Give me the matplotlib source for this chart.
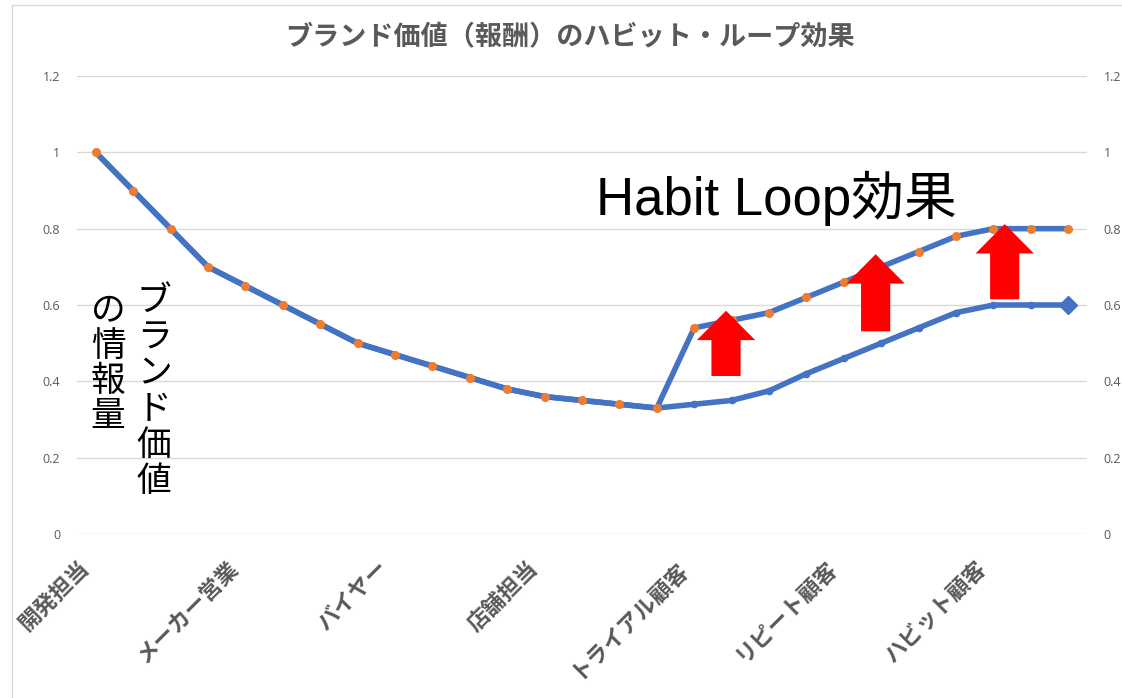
import matplotlib
matplotlib.use('Agg')
import matplotlib.pyplot as plt
from matplotlib.patches import Polygon
from matplotlib.lines import Line2D
import matplotlib.transforms as mtransforms

plt.rcParams['font.family'] = ['Noto Sans CJK JP', 'DejaVu Sans']

# ---------------- data ----------------
title = "ブランド価値（報酬）のハビット・ループ効果"
categories = ["開発担当", "メーカー営業", "バイヤー", "店舗担当",
              "トライアル顧客", "リピート顧客", "ハビット顧客"]
category_index = [0, 4, 8, 12, 16, 20, 24]
base_values = [1.0, 0.9, 0.8, 0.7, 0.65, 0.6, 0.55, 0.5, 0.47, 0.44, 0.41,
               0.38, 0.36, 0.35, 0.34, 0.33, 0.34, 0.35, 0.375, 0.42, 0.46,
               0.50, 0.54, 0.58, 0.60, 0.60, 0.60]
habit_values = [1.0, 0.9, 0.8, 0.7, 0.65, 0.6, 0.55, 0.5, 0.47, 0.44, 0.41,
                0.38, 0.36, 0.35, 0.34, 0.33, 0.54, 0.56, 0.58, 0.62, 0.66,
                0.70, 0.74, 0.78, 0.80, 0.80, 0.80]
y_ticks = [0, 0.2, 0.4, 0.6, 0.8, 1.0, 1.2]
y_tick_labels = ["0", "0.2", "0.4", "0.6", "0.8", "1", "1.2"]
annotation_text = "Habit Loop効果"
vertical_text_1 = "ブランド価値"
vertical_text_2 = "の情報量"
# red "up" arrows (annotation shapes): x position, tip and bottom value
arrow_x = [16.85, 20.85, 24.3]
arrow_tip = [0.585, 0.733, 0.812]
arrow_bottom = [0.414, 0.531, 0.615]

BLUE = '#4472C4'
ORANGE = '#ED7D31'
GRAY = '#595959'
GRID = '#d9d9d9'

W, H = 1122, 698
fig = plt.figure(figsize=(W / 100, H / 100), dpi=100)
fig.patch.set_facecolor('white')

# chart-area border (only left and top visible)
fig.add_artist(Line2D([11.5 / W, 11.5 / W], [0, 1 - 4.5 / H],
                      transform=fig.transFigure, color=GRID, linewidth=1.0))
fig.add_artist(Line2D([11.5 / W, 1.05], [1 - 4.5 / H, 1 - 4.5 / H],
                      transform=fig.transFigure, color=GRID, linewidth=1.0))

ax = fig.add_axes([77 / W, 164 / H, 1010 / W, 458 / H])
x = list(range(len(base_values)))

ax.plot(x, base_values, color=BLUE, linewidth=4.0, marker='o',
        markersize=4.5, markerfacecolor=BLUE, markeredgecolor=BLUE, zorder=3,
        solid_capstyle='round', solid_joinstyle='round')
ax.plot(x[-1:], base_values[-1:], linestyle='none', marker='D',
        markersize=9, color=BLUE, zorder=3)
ax.plot(x, habit_values, color=BLUE, linewidth=4.0, marker='o',
        markersize=5.5, markerfacecolor=ORANGE, markeredgecolor=ORANGE,
        zorder=4, solid_capstyle='round', solid_joinstyle='round')

ax.set_xlim(-0.5, len(base_values) - 0.5)
ax.set_ylim(0, 1.2)
ax.set_yticks(y_ticks)
ax.set_yticklabels(y_tick_labels)
ax.grid(axis='y', color=GRID, linewidth=1.0)
ax.set_axisbelow(True)
for s in ax.spines.values():
    s.set_visible(False)
ax.tick_params(axis='y', length=0, labelsize=9, labelcolor=GRAY, pad=12,
               labelright=True)
for lab in ax.yaxis.get_ticklabels(which='both'):
    lab.set_fontfamily(['Open Sans', 'DejaVu Sans'])

ax.set_xticks(category_index)
ax.set_xticklabels(categories, rotation=45, ha='right', va='center',
                   rotation_mode='anchor', fontsize=16, color=GRAY,
                   weight='bold')
ax.tick_params(axis='x', length=0, pad=22)
shift = mtransforms.ScaledTranslation(-10 / 100, 0, fig.dpi_scale_trans)
for lab in ax.get_xticklabels():
    lab.set_transform(lab.get_transform() + shift)

# red arrows
head_h = 0.077
head_w = 0.78
shaft_w = 0.39
for cx, tip, bot in zip(arrow_x, arrow_tip, arrow_bottom):
    base = tip - head_h
    pts = [(cx, tip), (cx + head_w, base), (cx + shaft_w, base),
           (cx + shaft_w, bot), (cx - shaft_w, bot), (cx - shaft_w, base),
           (cx - head_w, base)]
    ax.add_patch(Polygon(pts, closed=True, facecolor='#FF0000',
                         edgecolor='none', zorder=6))

# texts
fig.text(570 / W, 1 - 37 / H, title, ha='center', va='center',
         fontsize=19.5, weight='bold', color=GRAY)
fig.text(596 / W, 1 - 215 / H, annotation_text, ha='left', va='baseline',
         fontsize=38, color='black',
         family=['Liberation Sans', 'Noto Sans CJK JP'])
fig.text(154 / W, 1 - 285 / H, "\n".join(vertical_text_1), ha='center',
         va='top', fontsize=25, linespacing=1.03, color='black')
fig.text(108 / W, 1 - 294 / H, "\n".join(vertical_text_2), ha='center',
         va='top', fontsize=25, linespacing=1.0, color='black')

fig.savefig('out.png', dpi=100, facecolor='white')
